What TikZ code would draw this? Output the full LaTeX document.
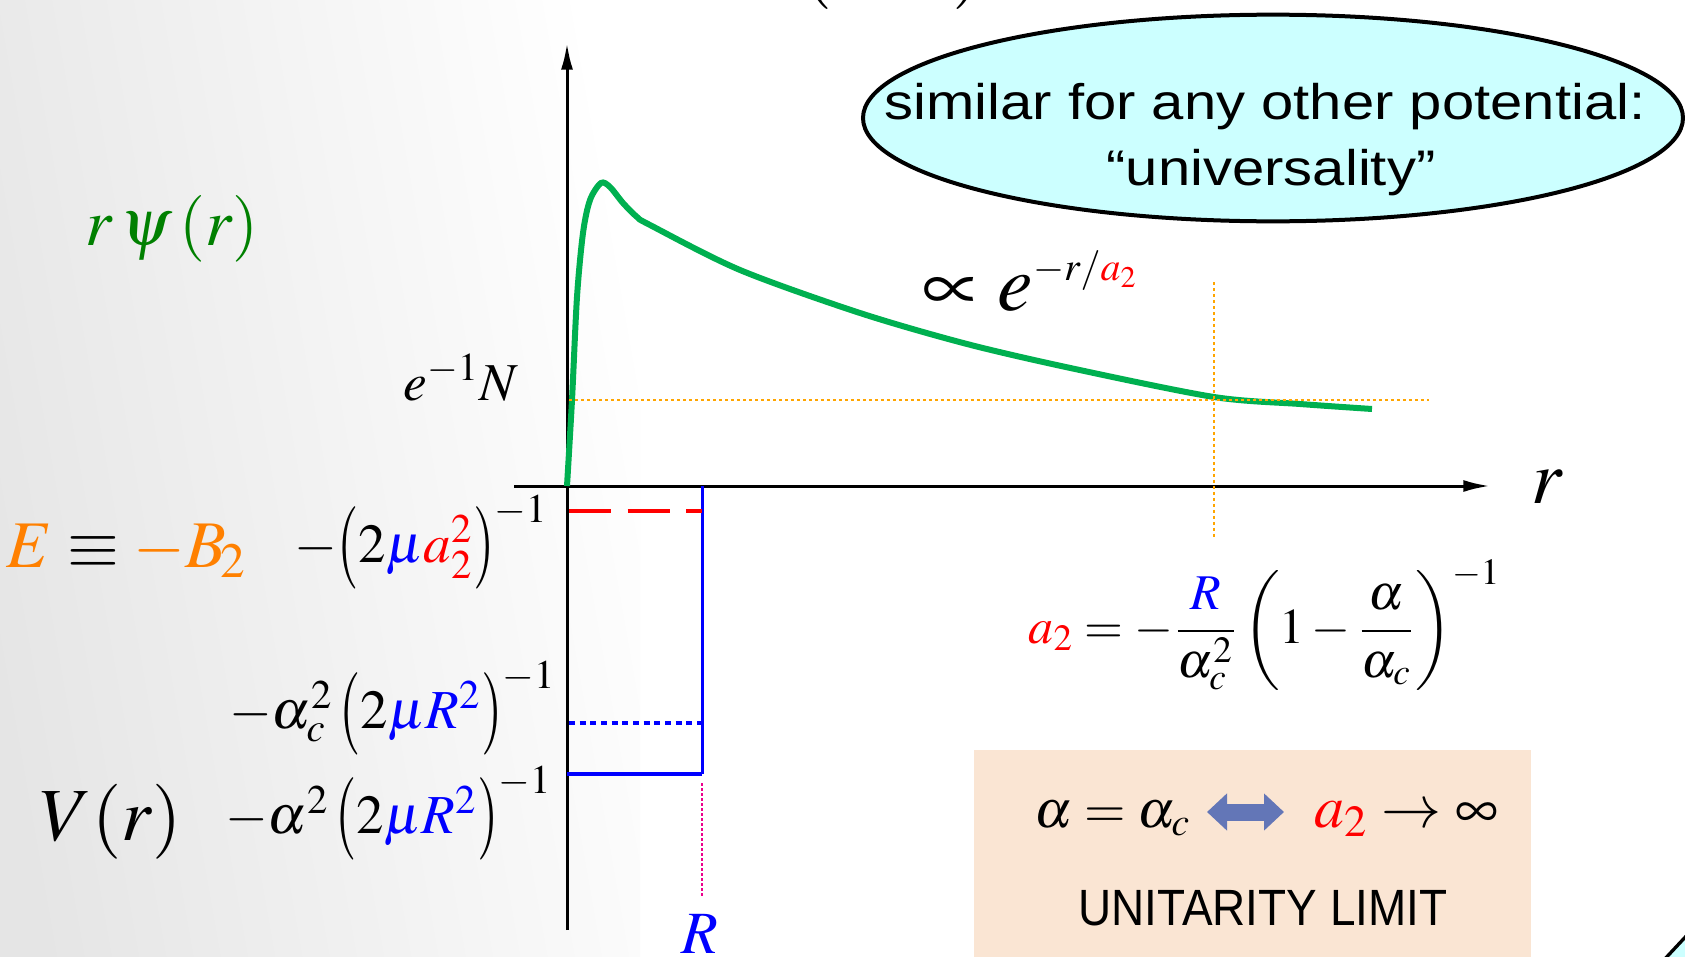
\documentclass[tikz,border=0pt]{standalone}
\usepackage{amsmath}
\usepackage{mathptmx}
\usepackage{fontspec}
\setmainfont{Liberation Serif}
\newfontfamily\bubblefont[FakeStretch=1.16]{Liberation Sans}
\newfontfamily\limitfont[FakeStretch=0.9]{Liberation Sans}
\usepackage{graphicx}
\usepackage{tikz}
\usetikzlibrary{positioning,arrows.meta,calc,shapes.geometric}
\usepackage{xcolor}
\definecolor{wavegreen}{RGB}{0,176,80}
\definecolor{labgreen}{RGB}{0,128,0}
\definecolor{engorange}{RGB}{255,128,0}
\definecolor{dotorange}{RGB}{255,165,0}
\definecolor{bubblecyan}{RGB}{204,255,255}
\definecolor{peach}{RGB}{250,229,211}
\definecolor{iffblue}{RGB}{99,118,183}
\newcommand{\tlp}{\mathopen{\vcenter{\hbox{\scalebox{1}[1.5]{$($}}}}}
\newcommand{\trp}{\mathclose{\vcenter{\hbox{\scalebox{1}[1.5]{$)$}}}}}

\begin{document}
\begin{tikzpicture}[x=0.3pt,y=-0.3pt,>={Latex[length=8pt,width=3.6pt]},
  lab/.style={inner sep=0pt,font=\fontsize{#1}{#1}\selectfont},
  dotline/.style={dotorange,line width=0.6pt,dash pattern=on 0.9pt off 0.9pt}]
\useasboundingbox (0,0) rectangle (1685,957);
\fill[white] (0,0) rectangle (1685,957);
\shade[left color=black!10,right color=white,shading angle=100] (0,0) rectangle (640,957);
\node[lab=24,anchor=base] (topcut) at (893,-10) {$(\hspace{36pt})$};

\node[draw=black,line width=1.2pt,fill=bubblecyan,ellipse,minimum width=246pt,minimum height=62pt] (bubble) at (1273,118) {};
\node[inner sep=0pt,font=\fontsize{15}{15}\selectfont\bubblefont,anchor=base] (simline) at (1265,120) {similar for any other potential:};
\node[inner sep=0pt,font=\fontsize{15}{15}\selectfont\bubblefont,anchor=base] (univline) at (1271,185) {“universality”};
\filldraw[fill=bubblecyan,draw=black,line width=1pt] (1662,962) -- (1690,932) -- (1690,962) -- cycle;

\coordinate (O) at (567,486);
\coordinate (xl) at (514,486);
\coordinate (xr) at (1490,486);
\coordinate (yb) at (567,930);
\coordinate (yt) at (567,43);
\draw[line width=0.9pt,->] (xl) -- (xr);
\draw[line width=0.9pt,->] (yb) -- (yt);

\coordinate (Rtop) at (702,486);
\coordinate (Rbot) at (702,774);
\coordinate (Vbot) at (567,774);
\draw[blue,line width=0.9pt] (Rtop) -- (Rbot);
\draw[blue,line width=1.3pt] (Vbot) -- (Rbot);
\draw[red,line width=1.3pt,dash pattern=on 12.6pt off 5pt] (569,511) -- (702,511);
\draw[blue,line width=1.4pt,dash pattern=on 1.8pt off 1.4pt] (569,723) -- (702,723);
\draw[magenta,line width=0.6pt,dash pattern=on 0.9pt off 0.6pt] (702,783) -- (702,897);

\draw[wavegreen,line width=1.8pt] plot[smooth,tension=0.5] coordinates {(567,486) (572,400) (577,297) (583,233) (590,200) (601,183) (610,187) (623,203) (637,217) (650,225) (740,270) (860,313) (967,344) (1075,369) (1214,397) (1300,404) (1372,409)};
\draw[dotline] (569,400) -- (1429,400);
\draw[dotline] (1214,282) -- (1214,538);

\node[lab=20,text=labgreen,anchor=base] (rpsi) at (172,245) {$r\,\psi\,(r)$};
\node[lab=16,anchor=base east] (eN) at (519,400) {$e^{-1}N$};
\node[lab=20,text=engorange,anchor=base west] (energy) at (6,567) {$E\mathrel{\color{black}\equiv}-B_{\!2}$};
\node[lab=16.5,anchor=base east] (Ea) at (549,562) {$-\tlp 2{\color{blue}\mu}{\color{red}a_2^2}\trp^{-1}$};
\node[lab=16.5,anchor=base east] (Vc) at (557,728) {$-\alpha_c^2\,\tlp 2{\color{blue}\mu R^2}\trp^{-1}$};
\node[lab=22.5,anchor=base west] (Vr) at (40,840) {$V(r)$};
\node[lab=16.5,anchor=base east] (V0) at (553,833) {$-\alpha^2\,\tlp 2{\color{blue}\mu R^2}\trp^{-1}$};
\node[lab=18,text=blue,anchor=base] (Rlab) at (700,953) {$R$};
\node[lab=23,anchor=base] (rlab) at (1547,503) {$r$};
\node[lab=24,anchor=base west] (tail) at (922,310) {$\propto e^{\text{\fontsize{12}{12}\selectfont$-r/{\color{red}a_2}$}}$};
\node[lab=15,anchor=base west] (a2def) at (1028,643) {$\displaystyle {\color{red}a_2}=-\frac{{\color{blue}R}}{\alpha_c^2}\left(1-\frac{\alpha}{\alpha_c}\right)^{-1}$};

\fill[peach] (974,750) rectangle (1531,960);
\node[lab=16,anchor=base west] (crit) at (1034,827) {$\alpha=\alpha_c$};
\node[lab=18,anchor=base west] (diverge) at (1314,827) {${\color{red}a_2}\to\infty$};
\coordinate (iffL) at (1207,812);
\coordinate (iffR) at (1284,812);
\draw[iffblue,line width=5.1pt,{Triangle[length=6pt,width=10.8pt]}-{Triangle[length=6pt,width=10.8pt]}] (iffL) -- (iffR);
\node[inner sep=0pt,font=\fontsize{15.3}{15.3}\selectfont\limitfont,anchor=base] (unitarity) at (1263,925) {UNITARITY LIMIT};
\end{tikzpicture}
\end{document}
